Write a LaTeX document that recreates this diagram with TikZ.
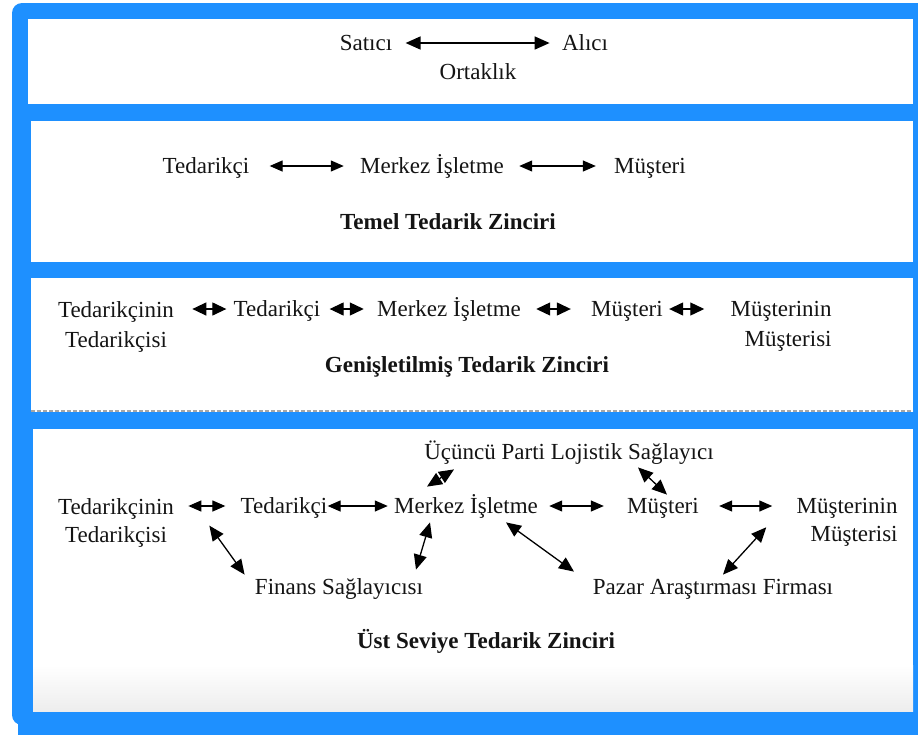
\documentclass[tikz,border=0pt]{standalone}
\usepackage{fontspec}
\setmainfont{Liberation Serif}
\usetikzlibrary{arrows.meta}
\definecolor{frameblue}{HTML}{1E90FF}
\begin{document}
\begin{tikzpicture}[x=0.5pt,y=-0.5pt,
  lbl/.style={inner sep=0pt, text height=9pt, text depth=1.5pt,
    font=\fontsize{11.5}{14}\selectfont, text=black!92},
  ttl/.style={lbl, font=\fontsize{11.5}{14}\selectfont\bfseries},
  two/.style={inner sep=0pt, anchor=north, text=black!92,
    font=\fontsize{11.5}{14}\selectfont},
  link/.style={line width=0.65pt,
    {Triangle[length=6.5pt,width=5.5pt]}-{Triangle[length=6.5pt,width=5.5pt]}},
  stub/.style={line width=0.65pt,
    {Triangle[length=7pt,width=6.5pt]}-{Triangle[length=7pt,width=6.5pt]}},
  diag/.style={line width=0.65pt,
    {Triangle[length=7.5pt,width=6.5pt]}-{Triangle[length=7.5pt,width=6.5pt]}}]

\useasboundingbox (0,0) rectangle (918,735);

% blue frame behind the four bands
\begin{scope}
  \clip (0,0) rectangle (918,735);
  \fill[frameblue, rounded corners=5pt] (12,3) rectangle (960,725);
  \fill[frameblue] (18,700) rectangle (960,760);
\end{scope}

% white bands
\fill[white] (28,19) rectangle (913,104);
\fill[white] (31,121) rectangle (913,262);
\fill[white] (31,278) rectangle (913,412);
\draw[gray!70, line width=1pt, dash pattern=on 2pt off 1pt] (31,410.5) -- (913,410.5);
\fill[white] (33,429) rectangle (913,711);
\shade[top color=white, bottom color=black!7] (33,665) rectangle (913,711);

% band 1: seller - buyer
\node[lbl] (sat) at (366,43) {Satıcı};
\node[lbl] (alc) at (585,43) {Alıcı};
\node[lbl] (ort) at (478,72) {Ortaklık};
\draw[diag, line width=0.8pt, shorten <=6.5pt, shorten >=6pt] (sat) -- (alc);

% band 2: basic supply chain
\node[lbl] (ted2) at (206,166) {Tedarikçi};
\node[lbl] (mer2) at (432,166) {Merkez İşletme};
\node[lbl] (mus2) at (650,166) {Müşteri};
\node[ttl] (tit2) at (448,222) {Temel Tedarik Zinciri};
\draw[link, shorten <=10pt, shorten >=8pt] (ted2) -- (mer2);
\draw[link, shorten <=7.5pt, shorten >=9pt] (mer2) -- (mus2);

% band 3: extended supply chain
\node[two, align=center, font=\fontsize{11.5}{15}\selectfont] (t3a) at (116,300.8) {Tedarikçinin\\Tedarikçisi};
\node[lbl] (t3b) at (277,309) {Tedarikçi};
\node[lbl] (t3c) at (449,309) {Merkez İşletme};
\node[lbl] (t3d) at (627,309) {Müşteri};
\node[two, anchor=north east, align=right, font=\fontsize{11.5}{15}\selectfont] (t3e) at (832,300.8) {Müşterinin\\Müşterisi};
\node[ttl] (tit3) at (467,365) {Genişletilmiş Tedarik Zinciri};
\draw[stub, shorten <=9pt, shorten >=3.5pt] (t3a.east |- t3b) -- (t3b.west);
\draw[stub, shorten <=4.5pt, shorten >=6.5pt] (t3b) -- (t3c);
\draw[stub, shorten <=7.5pt, shorten >=10pt] (t3c) -- (t3d);
\draw[stub, shorten <=3pt, shorten >=13pt] (t3d.east) -- (t3e.west |- t3d);

% band 4: ultimate supply chain
\node[lbl] (t4f) at (569,452) {Üçüncü Parti Lojistik Sağlayıcı};
\node[two, align=center] (t4a) at (116,497.8) {Tedarikçinin\\Tedarikçisi};
\node[lbl] (t4b) at (284,506) {Tedarikçi};
\node[lbl] (t4c) at (466,506) {Merkez İşletme};
\node[lbl] (t4d) at (663,506) {Müşteri};
\node[two, anchor=north east, align=right] (t4e) at (898,497.8) {Müşterinin\\Müşterisi};
\node[lbl] (t4g) at (339,587) {Finans Sağlayıcısı};
\node[lbl] (t4h) at (713,587) {Pazar Araştırması Firması};
\node[ttl] (tit4) at (486,641) {Üst Seviye Tedarik Zinciri};

\draw[link, shorten <=7pt, shorten >=7.5pt] (t4a.east |- t4b) -- (t4b.west);
\draw[link, shorten <=0pt, shorten >=3pt] (t4b) -- (t4c);
\draw[link, shorten <=5.5pt, shorten >=11.5pt] (t4c) -- (t4d);
\draw[link, shorten <=10pt, shorten >=12pt] (t4d.east) -- (t4e.west |- t4d);

\draw[diag] ([xshift=17.5pt,yshift=-1.5pt]t4a.east) -- ([xshift=-5pt,yshift=0.75pt]t4g.north west);
\draw[diag] ([xshift=-18pt,yshift=-2.75pt]t4c.south) -- ([xshift=38.5pt,yshift=3.25pt]t4g.north);
\draw[diag] ([xshift=20pt,yshift=-2.75pt]t4c.south) -- ([xshift=-69.5pt,yshift=2.25pt]t4h.north);
\draw[diag] ([xshift=-15pt,yshift=-2.5pt]t4e.west) -- ([xshift=5pt,yshift=0.75pt]t4h.north);
\draw[diag] ([xshift=-19.5pt,yshift=4.25pt]t4c.north) -- ([xshift=-57.5pt,yshift=-3.25pt]t4f.south);
\draw[diag] ([xshift=34.5pt,yshift=-2.25pt]t4f.south) -- ([xshift=2pt,yshift=0.25pt]t4d.north);

\end{tikzpicture}
\end{document}
